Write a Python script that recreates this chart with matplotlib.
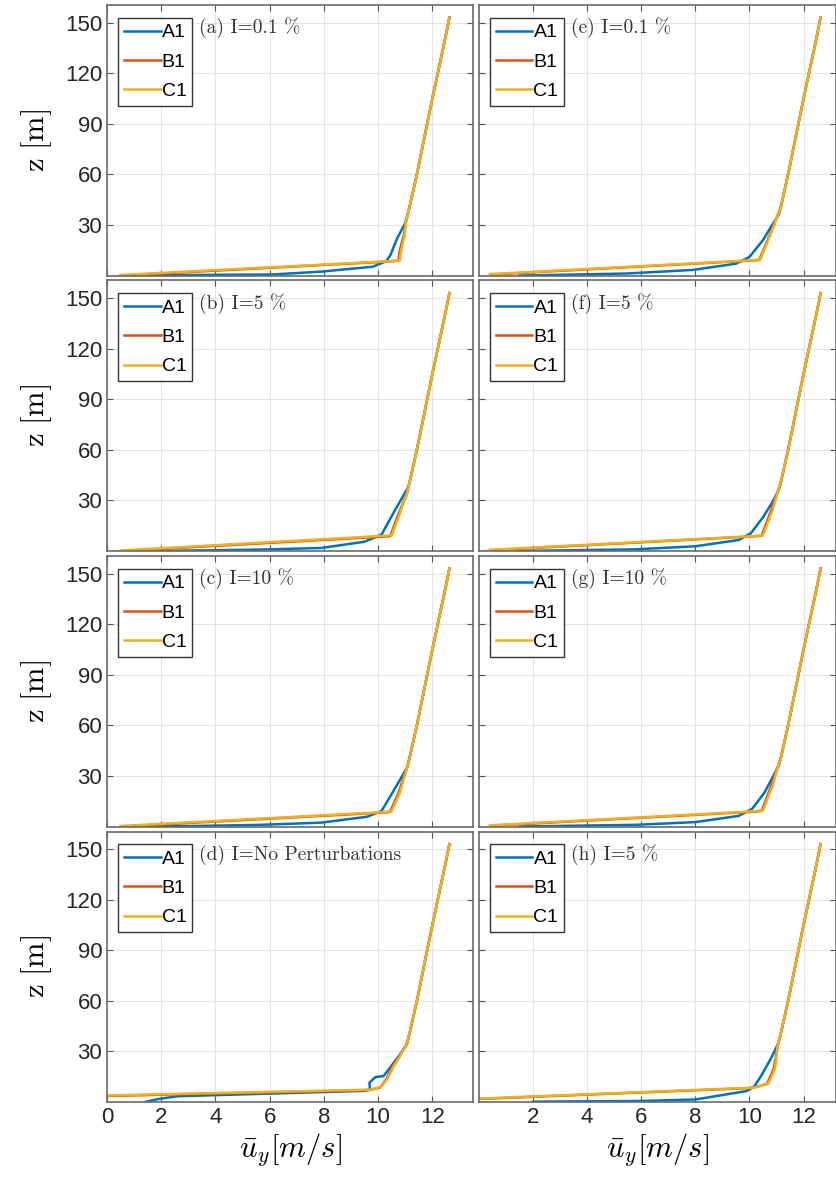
import matplotlib.pyplot as plt
from matplotlib.transforms import blended_transform_factory

plt.rcParams['mathtext.fontset'] = 'cm'
plt.rcParams['font.family'] = ['Liberation Sans', 'DejaVu Sans']

# panel tags, left column (a-d) then right column (e-h)
panel_tags = ['(a) I=0.1 %', '(b) I=5 %', '(c) I=10 %', '(d) I=No Perturbations',
              '(e) I=0.1 %', '(f) I=5 %', '(g) I=10 %', '(h) I=5 %']
series = ['A1', 'B1', 'C1']
colors = ['#0072BD', '#D95319', '#EDB120']

# outer part of the profile, common to all runs
z_upper = [40, 60, 75, 90, 105, 120, 135, 145, 153]
u_upper = [11.15, 11.43, 11.62, 11.81, 12.0, 12.2, 12.4, 12.53, 12.63]

# near-wall part of each profile, one row per panel (a..h)
u_A1 = [
    [1.5, 3.0, 6.1, 7.9, 9.8, 10.3, 10.45, 10.7, 11.0],
    [1.5, 2.75, 5.5, 7.9, 9.5, 10.13, 10.6, 11.08],
    [1.5, 2.75, 5.5, 7.9, 9.6, 10.13, 10.6, 11.07],
    [1.4, 1.9, 2.6, 6.0, 9.5, 9.7, 9.68, 9.9, 10.2, 10.44, 10.8, 11.05],
    [1.5, 2.7, 5.5, 7.9, 9.5, 10.0, 10.5, 10.8, 11.08],
    [1.5, 2.8, 5.8, 8.0, 9.6, 10.05, 10.5, 10.85, 11.08],
    [1.5, 2.8, 5.8, 8.0, 9.6, 10.1, 10.55, 10.85, 11.08],
    [2.0, 6.0, 8.0, 9.9, 10.2, 10.25, 10.45, 10.8, 11.07],
]
z_A1 = [
    [0, 0.3, 0.6, 2.3, 5.2, 8.5, 12, 22, 31],
    [0, 0.2, 0.8, 1.8, 5.5, 9.8, 23.6, 37],
    [0, 0.2, 0.9, 2.3, 5.8, 9.3, 22, 35],
    [0, 1.8, 3.4, 5.0, 6.6, 7.5, 11.5, 14.8, 15.4, 20.4, 28, 34],
    [0, 0.3, 1.2, 3.3, 7.0, 11, 21, 29, 36],
    [0, 0.3, 1.0, 2.8, 6.5, 10.5, 20, 29, 36],
    [0, 0.3, 1.0, 2.6, 6.3, 10.5, 20, 29, 36],
    [0.2, 0.6, 1.5, 6.5, 9.5, 11, 16, 26, 35],
]
u_B1 = [
    [0.6, 10.3, 10.75, 10.8, 10.95, 11.02],
    [0.6, 10.15, 10.45, 10.7, 11.06],
    [0.6, 10.13, 10.44, 10.75, 11.07],
    [0.0, 9.65, 10.07, 10.3, 10.5, 10.78, 11.05],
    [0.5, 10.0, 10.36, 10.8, 11.1],
    [0.5, 10.05, 10.45, 10.8, 11.1],
    [0.5, 10.1, 10.45, 10.8, 11.1],
    [0.0, 10.1, 10.65, 10.9, 11.04],
]
z_B1 = [
    [0, 8.2, 8.8, 15, 24, 31],
    [0, 8.5, 8.8, 20, 34],
    [0, 8.2, 8.6, 20, 35],
    [3.6, 7.0, 8.5, 13.5, 20.4, 27, 34],
    [0.6, 8.8, 9.2, 26, 38],
    [0.5, 8.6, 9.0, 24, 38],
    [0.5, 8.7, 9.2, 24, 38],
    [1.8, 8.3, 10.7, 20, 33],
]
u_C1 = [
    [0.5, 10.3, 10.8, 10.85, 10.98, 11.02],
    [0.5, 10.2, 10.5, 10.75, 11.06],
    [0.5, 10.15, 10.5, 10.8, 11.07],
    [0.0, 9.7, 10.12, 10.35, 10.55, 10.8, 11.05],
    [0.4, 10.05, 10.4, 10.82, 11.1],
    [0.4, 10.1, 10.5, 10.85, 11.1],
    [0.4, 10.15, 10.5, 10.85, 11.1],
    [0.0, 10.15, 10.7, 10.95, 11.04],
]
z_C1 = [
    [0.3, 8.4, 9.0, 15, 24, 31],
    [0.3, 9.0, 9.3, 20, 34],
    [0.3, 8.5, 9.0, 20, 35],
    [3.9, 7.3, 9.0, 14, 20.5, 27, 34],
    [0.8, 9.0, 9.5, 26, 38],
    [0.7, 8.8, 9.3, 24, 38],
    [0.7, 9.0, 9.5, 24, 38],
    [2.0, 8.5, 11.0, 20, 33],
]

W, H = 837, 1185
fig = plt.figure(figsize=(W / 100, H / 100), dpi=100)

row_tops = [5, 280.5, 556, 831.5]
row_h = 270.5
col_left = [107, 479]
col_w = [366, 357]
col_xmax = [13.5, 13.2]

for k in range(8):
    col, row = divmod(k, 4)
    ax = fig.add_axes([col_left[col] / W, 1 - (row_tops[row] + row_h) / H,
                       col_w[col] / W, row_h / H])
    curves = [(u_A1[k], z_A1[k]), (u_B1[k], z_B1[k]), (u_C1[k], z_C1[k])]
    for (u, z), name, c in zip(curves, series, colors):
        ax.plot(u + u_upper, z + z_upper, color=c, lw=1.8, label=name)

    ax.set_xlim(0, col_xmax[col])
    ax.set_ylim(0, 160.5)
    ax.set_yticks([30, 60, 90, 120, 150])
    ax.set_xticks(range(0, 13, 2) if col == 0 else range(2, 13, 2))
    ax.grid(True, color='#e4e4e4', lw=0.8)
    ax.set_axisbelow(True)
    for s in ax.spines.values():
        s.set_color('#6a6a6a')
        s.set_linewidth(1.2)
    ax.tick_params(direction='in', length=4, top=True, right=True,
                   color='#555555', labelcolor='#262626', labelsize=16)
    if col == 1:
        ax.tick_params(labelleft=False)
    else:
        ax.set_ylabel(r'$\mathrm{z\ [m]}$', fontsize=22, labelpad=8)
    if row < 3:
        ax.tick_params(labelbottom=False)
    else:
        ax.set_xlabel(r'$\bar{u}_y[m/s]$', fontsize=22, labelpad=2)

    leg = ax.legend(loc='upper left', bbox_to_anchor=(0.03, 0.952), borderaxespad=0,
                    fontsize=14, handlelength=1.9, handletextpad=0.05,
                    labelspacing=0.6, borderpad=0.3, fancybox=False, framealpha=1)
    leg.get_frame().set_edgecolor('#333333')
    leg.get_frame().set_linewidth(1.0)

    trans = blended_transform_factory(ax.transData, ax.transAxes)
    ax.text(3.4, 0.915, panel_tags[k], family='cmr10', transform=trans,
            fontsize=14, ha='left', va='center', color='#333333')

fig.savefig('out.png', dpi=100)
